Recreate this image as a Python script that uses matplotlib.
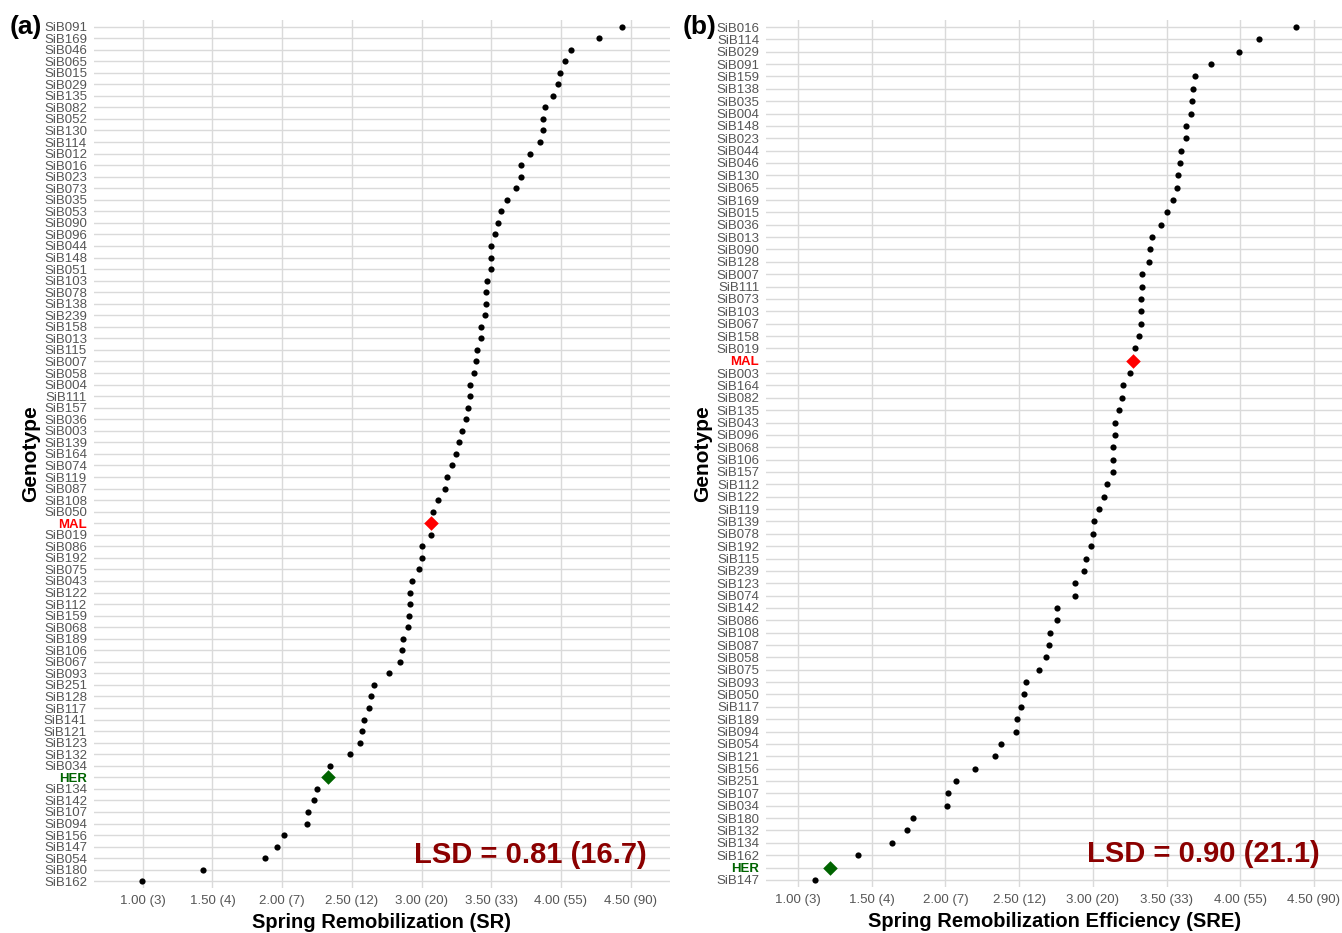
import matplotlib
matplotlib.use("Agg")
import matplotlib.pyplot as plt
import numpy as np

# ---------------------------------------------------
# DATA (top to bottom, as plotted)
# ---------------------------------------------------

sr_genotypes = [
    "SiB091", "SiB169", "SiB046", "SiB065", "SiB015", "SiB029", "SiB135", "SiB082",
    "SiB052", "SiB130", "SiB114", "SiB012", "SiB016", "SiB023", "SiB073", "SiB035",
    "SiB053", "SiB090", "SiB096", "SiB044", "SiB148", "SiB051", "SiB103", "SiB078",
    "SiB138", "SiB239", "SiB158", "SiB013", "SiB115", "SiB007", "SiB058", "SiB004",
    "SiB111", "SiB157", "SiB036", "SiB003", "SiB139", "SiB164", "SiB074", "SiB119",
    "SiB087", "SiB108", "SiB050", "MAL", "SiB019", "SiB086", "SiB192", "SiB075",
    "SiB043", "SiB122", "SiB112", "SiB159", "SiB068", "SiB189", "SiB106", "SiB067",
    "SiB093", "SiB251", "SiB128", "SiB117", "SiB141", "SiB121", "SiB123", "SiB132",
    "SiB034", "HER", "SiB134", "SiB142", "SiB107", "SiB094", "SiB156", "SiB147",
    "SiB054", "SiB180", "SiB162",
]
sr_values = [
    4.44, 4.27, 4.07, 4.03, 3.99, 3.98, 3.94, 3.885,
    3.87, 3.87, 3.85, 3.78, 3.71, 3.71, 3.68, 3.61,
    3.57, 3.545, 3.53, 3.50, 3.50, 3.50, 3.47, 3.465,
    3.46, 3.455, 3.43, 3.43, 3.40, 3.39, 3.38, 3.35,
    3.345, 3.33, 3.32, 3.29, 3.27, 3.25, 3.22, 3.18,
    3.17, 3.12, 3.08, 3.07, 3.07, 3.00, 3.00, 2.98,
    2.93, 2.92, 2.915, 2.91, 2.90, 2.865, 2.86, 2.845,
    2.77, 2.66, 2.64, 2.625, 2.585, 2.575, 2.56, 2.49,
    2.345, 2.33, 2.25, 2.23, 2.185, 2.175, 2.015, 1.96,
    1.88, 1.435, 0.995,
]

sre_genotypes = [
    "SiB016", "SiB114", "SiB029", "SiB091", "SiB159", "SiB138", "SiB035", "SiB004",
    "SiB148", "SiB023", "SiB044", "SiB046", "SiB130", "SiB065", "SiB169", "SiB015",
    "SiB036", "SiB013", "SiB090", "SiB128", "SiB007", "SiB111", "SiB073", "SiB103",
    "SiB067", "SiB158", "SiB019", "MAL", "SiB003", "SiB164", "SiB082", "SiB135",
    "SiB043", "SiB096", "SiB068", "SiB106", "SiB157", "SiB112", "SiB122", "SiB119",
    "SiB139", "SiB078", "SiB192", "SiB115", "SiB239", "SiB123", "SiB074", "SiB142",
    "SiB086", "SiB108", "SiB087", "SiB058", "SiB075", "SiB093", "SiB050", "SiB117",
    "SiB189", "SiB094", "SiB054", "SiB121", "SiB156", "SiB251", "SiB107", "SiB034",
    "SiB180", "SiB132", "SiB134", "SiB162", "HER", "SiB147",
]
sre_values = [
    4.38, 4.125, 3.99, 3.80, 3.69, 3.68, 3.675, 3.665,
    3.63, 3.63, 3.595, 3.59, 3.575, 3.57, 3.545, 3.505,
    3.46, 3.40, 3.39, 3.38, 3.335, 3.335, 3.33, 3.33,
    3.325, 3.31, 3.285, 3.275, 3.255, 3.205, 3.20, 3.18,
    3.15, 3.15, 3.14, 3.14, 3.135, 3.095, 3.075, 3.04,
    3.005, 3.00, 2.985, 2.955, 2.94, 2.88, 2.88, 2.76,
    2.76, 2.71, 2.70, 2.685, 2.635, 2.55, 2.53, 2.51,
    2.485, 2.48, 2.38, 2.335, 2.20, 2.075, 2.015, 2.01,
    1.78, 1.74, 1.64, 1.41, 1.22, 1.115,
]

tick_values = [1.0, 1.5, 2.0, 2.5, 3.0, 3.5, 4.0, 4.5]
tick_labels = ["1.00 (3)", "1.50 (4)", "2.00 (7)", "2.50 (12)",
               "3.00 (20)", "3.50 (33)", "4.00 (55)", "4.50 (90)"]

panels = [
    ("(a)", sr_genotypes, sr_values, "Spring Remobilization (SR)", "LSD = 0.81 (16.7)", (0.65, 4.78)),
    ("(b)", sre_genotypes, sre_values, "Spring Remobilization Efficiency (SRE)", "LSD = 0.90 (21.1)", (0.785, 4.69)),
]

# ---------------------------------------------------
# STYLE
# ---------------------------------------------------

plt.rcParams["font.family"] = ["Liberation Sans", "DejaVu Sans"]

highlight = {"MAL": "#ff0000", "HER": "#006400"}
grid_col = "#dadada"
label_col = "#555555"

fig = plt.figure(figsize=(13.42, 9.33), dpi=100)

axes_rects = [
    [0.070, 0.048, 0.429, 0.931],
    [0.571, 0.049, 0.429, 0.930],
]
tag_x = [26, 700]  # pixel centre of panel tags

for (tag, genos, vals, xlabel, lsd, xlim), rect, tx in zip(panels, axes_rects, tag_x):
    ax = fig.add_axes(rect)
    n = len(genos)
    y = np.arange(n)
    vals = np.array(vals)

    normal = np.array([g not in highlight for g in genos])
    ax.scatter(vals[normal], y[normal], s=20, color="black", zorder=3, linewidths=0)
    for g, c in highlight.items():
        i = genos.index(g)
        ax.scatter(vals[i], y[i], s=55, marker="D", color=c, zorder=4, linewidths=0)

    ax.set_ylim(n - 1 + 0.6, -0.6)
    ax.set_xlim(*xlim)

    ax.set_yticks(y)
    ax.set_yticklabels(genos, fontsize=9.5)
    for lab in ax.get_yticklabels():
        g = lab.get_text()
        if g in highlight:
            lab.set_color(highlight[g])
            lab.set_fontweight("bold")
        else:
            lab.set_color(label_col)

    ax.set_xticks(tick_values)
    ax.set_xticklabels(tick_labels, fontsize=9.5, color=label_col)

    ax.tick_params(axis="y", length=0, pad=5)
    ax.tick_params(axis="x", length=0, pad=5)
    ax.grid(True, color=grid_col, linewidth=1.0)
    ax.set_axisbelow(True)
    for s in ax.spines.values():
        s.set_visible(False)

    ax.set_xlabel(xlabel, fontsize=14.5, fontweight="bold", labelpad=4)
    ax.set_ylabel("Genotype", fontsize=15, fontweight="bold", labelpad=3)

    ax.text(0.961, 0.038, lsd, transform=ax.transAxes, ha="right", va="center",
            fontsize=21, fontweight="bold", color="#8b0000")

    fig.text(tx / 1342, 1 - 27 / 933, tag, ha="center", va="center",
             fontsize=19, fontweight="bold")

fig.savefig("out.png", dpi=100)
